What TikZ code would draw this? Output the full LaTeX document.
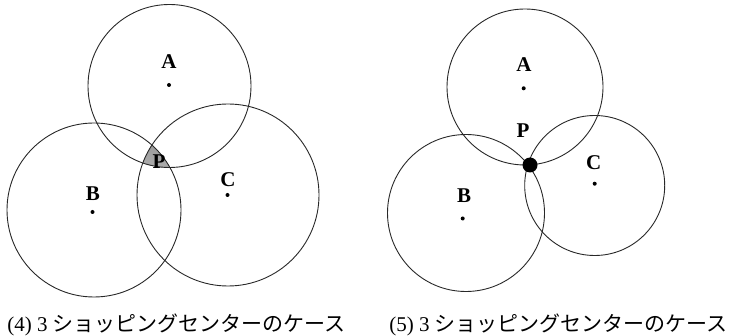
\documentclass[tikz,border=0pt]{standalone}
\usepackage{fontspec}
\setmainfont{Liberation Serif}
\newfontfamily\jpfont{Noto Sans CJK JP}
\usepackage{tikz}
\definecolor{ink}{RGB}{40,40,40}
\definecolor{shade}{RGB}{192,192,192}

\begin{document}
\begin{tikzpicture}[
  x=1pt, y=-1pt,
  ring/.style={circle, draw=ink, line width=0.9pt, inner sep=0pt, minimum size=#1},
  spot/.style={circle, fill=black, inner sep=0pt, minimum size=4pt},
  lbl/.style={font=\bfseries\fontsize{21}{21}\selectfont, inner sep=0pt},
  caption/.style={font=\fontsize{21}{24}\selectfont, inner sep=0pt}
]
\useasboundingbox (0,0) rectangle (733,336);

% (4) overlapping area
\begin{scope}
  \clip (169.5,86) circle (81.5pt);
  \clip (94,210) circle (87pt);
  \fill[shade] (228,195) circle (91pt);
\end{scope}

\node[ring=163pt] (ringA) at (169.5,86) {};
\node[ring=174pt] (ringB) at (94,210) {};
\node[ring=182pt] (ringC) at (228,195) {};
\node[spot] (ctrA) at (169,85) {};
\node[spot] (ctrB) at (92.5,212) {};
\node[spot] (ctrC) at (227.5,195) {};
\node[lbl] (labA) at (169,62) {A};
\node[lbl] (labB) at (93,194) {B};
\node[lbl] (labC) at (228,180) {C};
\node[lbl] (labP) at (159,161.5) {P};
\node[caption] (capL) at (176.5,325) {(4) 3 {\jpfont ショッピングセンターのケース}};

% (5) single common point
\node[ring=156pt] (ringA2) at (525,87) {};
\node[ring=157pt] (ringB2) at (466,213) {};
\node[ring=140pt] (ringC2) at (594.7,185.5) {};
\node[spot] (ctrA2) at (523.7,88.3) {};
\node[spot] (ctrB2) at (462.7,218.5) {};
\node[spot] (ctrC2) at (594.7,183.7) {};
\node[spot, minimum size=15pt] (pt) at (530,165) {};
\node[lbl] (labA2) at (524,64.5) {A};
\node[lbl] (labB2) at (464,196) {B};
\node[lbl] (labC2) at (593.7,163) {C};
\node[lbl] (labP2) at (523,130.5) {P};
\node[caption] (capR) at (558.5,325) {(5) 3 {\jpfont ショッピングセンターのケース}};
\end{tikzpicture}
\end{document}
